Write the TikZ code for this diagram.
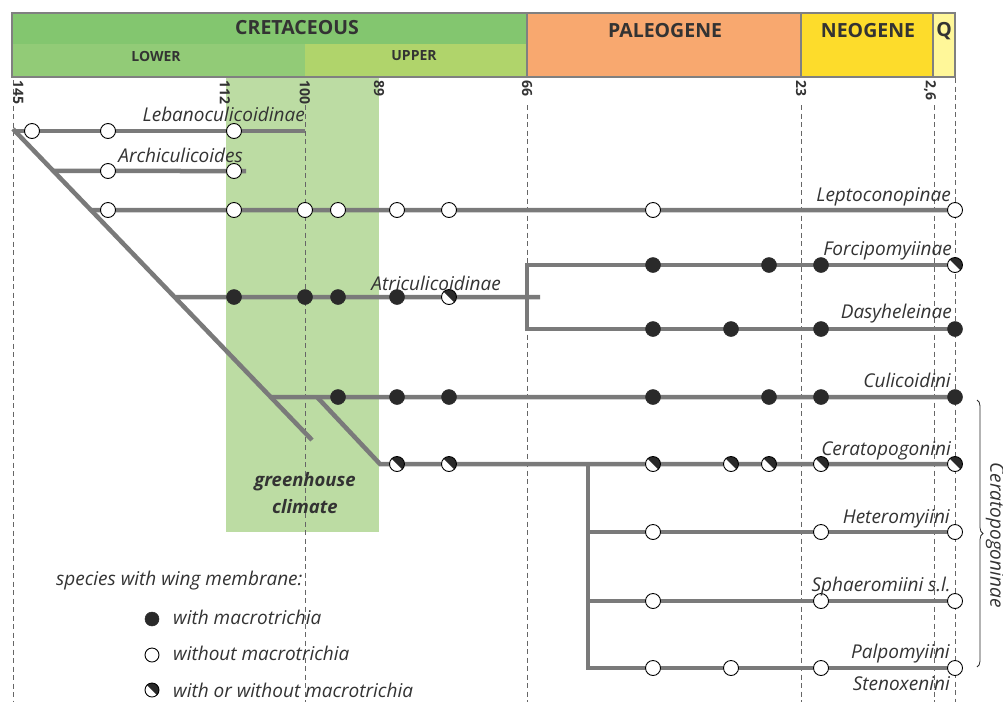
\documentclass[tikz,border=0pt]{standalone}
\usepackage{fontspec}
\setmainfont{Open Sans}
\usetikzlibrary{calc,decorations.pathreplacing}
\definecolor{lg}{HTML}{7A7A7A}
\definecolor{dg}{HTML}{666666}
\definecolor{dk}{HTML}{2A2A2A}
\definecolor{txt}{HTML}{333333}
\definecolor{cret}{HTML}{83C66F}
\definecolor{lowc}{HTML}{92CB77}
\definecolor{uppc}{HTML}{B0D46B}
\definecolor{paleo}{HTML}{F8A86F}
\definecolor{neo}{HTML}{FDDC2B}
\definecolor{quat}{HTML}{FFF799}
\definecolor{gbox}{HTML}{BCDCA3}
\definecolor{hbord}{HTML}{808080}
\begin{document}
\begin{tikzpicture}[x=1pt,y=-1pt,
  branch/.style={draw=lg, line width=4.5pt},
  vdash/.style={draw=dg, line width=0.9pt, dash pattern=on 5pt off 3.5pt},
  opn/.style={circle, draw=black, fill=white, line width=0.9pt, minimum size=15pt, inner sep=0pt},
  fil/.style={circle, draw=dk, fill=dk, line width=0.5pt, minimum size=15pt, inner sep=0pt},
  hlf/.style={opn, path picture={\fill[dk] (path picture bounding box.north west) -- (path picture bounding box.north east) -- (path picture bounding box.south east) -- cycle;}},
  lab/.style={font=\fontsize{19}{21}\selectfont\itshape, text=txt, inner sep=0pt, anchor=base east},
  hdr/.style={font=\fontsize{19.5}{22}\selectfont\bfseries, text=txt, inner sep=0pt},
  shdr/.style={font=\fontsize{14}{16}\selectfont\bfseries, text=txt, inner sep=0pt},
  tick/.style={font=\fontsize{14}{15}\selectfont\bfseries, text=txt, rotate=-90, inner sep=0pt}
]
\useasboundingbox (0,0) rectangle (1003,702);
\fill[white] (0,0) rectangle (1003,702);

% greenhouse box
\fill[gbox] (226,77) rectangle (379,532);

% dashed time lines
\draw[vdash] (13,80) -- (13,702);
\draw[vdash] (305,105) -- (305,702);
\draw[vdash] (527,105) -- (527,702);
\draw[vdash] (801,105) -- (801,702);
\draw[vdash] (934,105) -- (934,702);
\draw[vdash] (955,78) -- (955,702);

% header
\fill[cret] (12,13) rectangle (527,44);
\fill[lowc] (12,44) rectangle (305,77);
\fill[uppc] (305,44) rectangle (527,77);
\fill[paleo] (527,13) rectangle (801,77);
\fill[neo] (801,13) rectangle (933,77);
\fill[quat] (933,13) rectangle (955,77);
\draw[hbord, line width=1.2pt] (12,13) rectangle (955,77);
\draw[hbord, line width=1.2pt] (527,13) -- (527,77) (801,13) -- (801,77) (933,13) -- (933,77);
\node[hdr] (hcret) at (297,28) {CRETACEOUS};
\node[shdr] (hlow) at (156,56) {LOWER};
\node[shdr] (hupp) at (414,56) {UPPER};
\node[hdr] (hpal) at (665,31) {PALEOGENE};
\node[hdr] (hneo) at (868,31) {NEOGENE};
\node[hdr] (hq) at (944,31) {Q};

% ticks
\node[tick, anchor=south west] (t145) at (13,80) {145};
\node[tick, anchor=west] (t112) at (225,80) {112};
\node[tick, anchor=west] (t100) at (305,80) {100};
\node[tick, anchor=west] (t89) at (379,80) {89};
\node[tick, anchor=west] (t66) at (527,80) {66};
\node[tick, anchor=west] (t23) at (801,80) {23};
\node[tick, anchor=west] (t26) at (930,80) {2,6};

% tree coordinates
\coordinate (root) at (13,129);
\coordinate (dend) at (312,440);
\coordinate (L0) at (13,131);
\coordinate (L1) at (305,131);
\coordinate (A0) at ($(root)!0.1350!(dend)$);
\coordinate (A1) at (246,171);
\coordinate (P0) at ($(root)!0.26045!(dend)$);
\coordinate (P1) at (955,210);
\coordinate (T0) at ($(root)!0.54019!(dend)$);
\coordinate (T1) at (540,297);
\coordinate (FD0) at (527,265);
\coordinate (FD1) at (527,329);
\coordinate (F1) at (955,265);
\coordinate (D1) at (955,329);
\coordinate (C0) at ($(root)!0.86174!(dend)$);
\coordinate (C1) at (955,397);
\coordinate (CB) at (317,397);
\coordinate (CK) at (380,464);
\coordinate (CE) at (955,464);
\coordinate (S0) at (588,464);
\coordinate (S1) at (588,532);
\coordinate (S2) at (588,601);
\coordinate (S3) at (588,668);
\coordinate (H1) at (955,532);
\coordinate (SP1) at (955,601);
\coordinate (PA1) at (955,668);

% branches
\draw[branch] (root) -- (dend);
\draw[branch] (L0) -- (L1);
\draw[branch] (A0) -- (A1);
\draw[branch] (P0) -- (P1);
\draw[branch] (T0) -- (T1);
\draw[branch, line join=miter] (F1) -- (FD0) -- (FD1) -- (D1);
\draw[branch] (C0) -- (C1);
\draw[branch, line join=miter] (CB) -- (CK) -- (CE);
\draw[branch, line join=miter] (S0) -- (S3) -- (PA1);
\draw[branch] (S1) -- (H1);
\draw[branch] (S2) -- (SP1);

% circles
\foreach \x in {32,108,234} \node[opn] (r1-\x) at (\x,131) {};
\foreach \x in {108,234} \node[opn] (r2-\x) at (\x,171) {};
\foreach \x in {108,234,305,338,397,449,653,955} \node[opn] (r3-\x) at (\x,210) {};
\foreach \x in {234,305,338,397} \node[fil] (r4-\x) at (\x,297) {};
\node[hlf] (r4-449) at (449,297) {};
\foreach \x in {653,769,821} \node[fil] (rf-\x) at (\x,265) {};
\node[hlf] (rf-955) at (955,265) {};
\foreach \x in {653,731,821,955} \node[fil] (rd-\x) at (\x,329) {};
\foreach \x in {338,397,449,653,769,821,955} \node[fil] (rc-\x) at (\x,397) {};
\foreach \x in {397,449,653,731,769,821,955} \node[hlf] (rk-\x) at (\x,464) {};
\foreach \x in {653,821,955} \node[opn] (rh-\x) at (\x,532) {};
\foreach \x in {653,821,955} \node[opn] (rs-\x) at (\x,601) {};
\foreach \x in {653,731,821,955} \node[opn] (rp-\x) at (\x,668) {};

% taxon labels
\node[lab] (nLeb) at (305,121) {Lebanoculicoidinae};
\node[lab] (nArc) at (243,162) {Archiculicoides};
\node[lab] (nLep) at (951,201) {Leptoconopinae};
\node[lab] (nFor) at (952,255) {Forcipomyiinae};
\node[lab] (nDas) at (952,318) {Dasyheleinae};
\node[lab] (nAtr) at (501,290) {Atriculicoidinae};
\node[lab] (nCul) at (951,387) {Culicoidini};
\node[lab] (nCer) at (951,455) {Ceratopogonini};
\node[lab] (nHet) at (950,523) {Heteromyiini};
\node[lab] (nSph) at (951,591) {Sphaeromiini s.l.};
\node[lab] (nPal) at (950,658) {Palpomyiini};
\node[lab] (nSte) at (950,690) {Stenoxenini};

% greenhouse text
\node[font=\fontsize{18.5}{20}\selectfont\bfseries\itshape, text=txt, inner sep=0pt, anchor=base] (gh1) at (305,486) {greenhouse};
\node[font=\fontsize{18.5}{20}\selectfont\bfseries\itshape, text=txt, inner sep=0pt, anchor=base] (gh2) at (305,513) {climate};

% brace
\draw[decorate, decoration={brace, amplitude=6pt}, draw=dk, line width=0.8pt] (977,400) -- (977,667);
\node[lab, rotate=-90, anchor=center] (nCtp) at (995,535) {Ceratopogoninae};

% legend
\node[lab, anchor=base west] (lg0) at (56,585) {species with wing membrane:};
\node[fil, minimum size=14pt] (lgf) at (152,619) {};
\node[opn, minimum size=14pt] (lgo) at (152,655) {};
\node[hlf, minimum size=14pt] (lgh) at (152,690) {};
\node[lab, anchor=base west] (lg1) at (173,624) {with macrotrichia};
\node[lab, anchor=base west] (lg2) at (173,660) {without macrotrichia};
\node[lab, anchor=base west] (lg3) at (173,697) {with or without macrotrichia};
\end{tikzpicture}
\end{document}
